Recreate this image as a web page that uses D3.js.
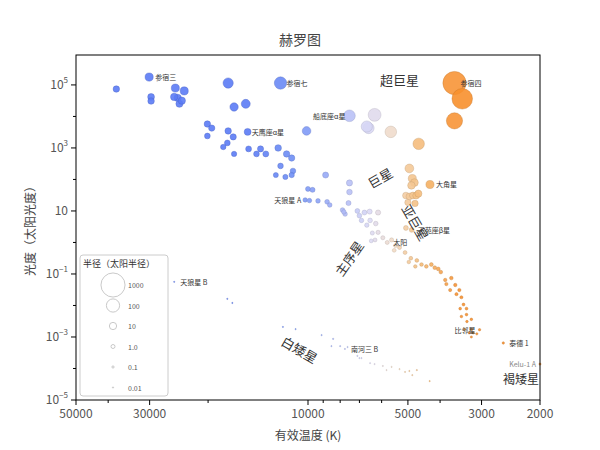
<!DOCTYPE html>
<html><head><meta charset="utf-8">
<script src="https://cdn.jsdelivr.net/npm/d3@7"></script>
<style>body{margin:0;background:#fff}text{font-family:"Noto Sans CJK SC","Noto Sans",sans-serif}</style>
</head><body><svg id="c" width="600" height="450"></svg>
<script>
// star data: [effective temperature K, luminosity (solar)] via log10 L
const hotStars = [[37800,4.87],[30100,5.25],[29700,4.62],[29700,4.49],[25100,4.90],[24700,4.59],[25300,4.62],[24400,4.40],[23600,4.81],[24000,4.5],
 [17400,5.06],[16700,4.30],[15400,4.40],[12100,5.06],[20100,3.76],[19500,3.63],[20100,3.38],[17400,3.54],[16800,3.35],[16700,2.81],[18000,3.03],[17500,3.16],
 [15200,3.51],[15100,2.97],[14300,2.81],[13400,2.81],[13900,2.97],[12300,3.00],[11600,2.81],[12100,2.43],[11100,2.27],[11200,2.68],[12500,2.14],[11700,2.08],[11200,2.14],
 [10100,3.54],[8850,2.14],[10000,1.70],[9690,1.67],[9330,1.32],[8760,1.29],[8600,1.19],[10200,1.35],[9900,1.33],[7500,1.89],[7500,1.60],[7550,1.25],[7870,1.03],[7730,0.90],[7800,0.97]];
const superStars = [[7500,4.02],[6300,4.05],[6570,3.63],[6650,3.68],[5630,3.51],[4640,3.13],[3620,5.06],[3430,4.56],[3620,3.86]];
const msStars = [[7100,1.0],[7000,0.85],[6760,0.95],[6520,0.98],[6150,0.95],[6900,0.7],[6500,0.7],[6650,0.55],[6250,0.6],[6400,0.3],[6150,0.32],[6280,0.08],[6450,0.05],
 [5950,0.15],[5600,0.08],[5772,0.0],[5450,-0.1],[5300,-0.16],[5500,-0.25],[5100,-0.32],[4900,-0.5],[4970,-0.62],[4700,-0.57],[4550,-0.7],[4750,-0.76],[4400,-0.76],[4250,-0.7],[4150,-0.8],[4050,-0.84],
 [3980,-0.94],[3860,-1.19],[3830,-1.32],[3700,-1.13],[3600,-1.35],[3730,-1.51],[3570,-1.64],[3500,-1.51],[3450,-1.74],[3400,-1.97],[3480,-2.10],[3330,-2.10],[3330,-2.29],[3450,-2.35],[3320,-2.51],
 [3220,-2.44],[3380,-2.76],[3270,-2.87],[3220,-2.76],[3180,-2.87],[3220,-3.0],[3042,-2.77],[3100,-2.9],[2580,-3.19],[2000,-3.86]];
const giantStars = [[4950,2.35],[4850,2.03],[4780,1.90],[4880,1.81],[5070,1.49],[4950,1.46],[4830,1.49],[4720,1.49],[4650,1.55],[5000,1.27],[4760,1.24],[4290,1.84],[5070,0.46],[4870,0.40]];
const dwarfStars = [[25300,-1.25],[17500,-1.79],[16900,-1.92],[11900,-2.68],[10900,-2.75],[9100,-2.94],[8400,-3.06],[8500,-3.29],[8000,-3.29],[7600,-3.32],[7740,-3.38],[7100,-3.6],[7000,-3.67],
 [6900,-3.67],[6500,-3.83],[6300,-3.86],[5950,-3.92],[5800,-4.05],[5600,-3.95],[5300,-4.02],[5100,-4.11],[4950,-4.08],[4850,-4.21],[4700,-4.05],[4300,-4.40]];
const starLabels = [["参宿三",30100,5.25],["参宿七",12100,5.06],["参宿四",3620,5.06],["船底座α星",7500,4.02],["天鹰座α星",15400,3.51],["大角星",4290,1.84],
 ["天狼星 A",10200,1.35],["天苑座β星",4870,0.40],["太阳",5772,0.0],["天狼星 B",25300,-1.25],["南河三 B",7740,-3.38],["比邻星",3042,-2.77],["泰德 1",2580,-3.19],["Kelu-1 A",2000,-3.86]];
const regionLabels = [["超巨星",5300,5.0,0,13],["巨星",5950,1.9,-30,13],["亚巨星",4900,0.55,60,13],["主序星",7300,-0.6,-55,13],["白矮星",10800,-3.55,30,13],["褐矮星",2280,-4.5,0,12]];
const legendRadii = [1000,100,10,1.0,0.1,0.01];
const legendText = ["1000","100","10","1.0","0.1","0.01"];
const xTicks = [50000,30000,10000,5000,3000,2000];
const yTicks = [5,3,1,-1,-3,-5];

const svg = d3.select("#c");
const L=76,R=540,T=55,B=400;
const x = d3.scaleLog().domain([50000,2000]).range([L,R]);
const y = d3.scaleLinear().domain([-5,5.95]).range([B,T]);
const col = d3.scaleLog().domain([2000,3500,4500,5500,6500,8000,11000,15000,50000])
  .range(["#f7902e","#f7902e","#f5b870","#f3dcc5","#dcdaf5","#a9b6f7","#7090f5","#5b7bf5","#5b7bf5"]).interpolate(d3.interpolateRgb).clamp(true);
const rad = Rs => 2*Math.pow(Rs,0.26);
const radius = d => Math.sqrt(Math.pow(10,d[1]))/Math.pow(d[0]/5772,2);

const all = [...hotStars,...superStars,...msStars,...giantStars,...dwarfStars];
svg.append("g").selectAll("circle").data(all).join("circle")
 .attr("cx",d=>x(d[0])).attr("cy",d=>y(d[1])).attr("r",d=>rad(radius(d)))
 .attr("fill",d=>col(d[0])).attr("fill-opacity",0.9)
 .attr("stroke",d=>d3.color(col(d[0])).darker(0.6)).attr("stroke-width",0.4);

svg.append("rect").attr("x",L).attr("y",T).attr("width",R-L).attr("height",B-T).attr("fill","none").attr("stroke","#000").attr("stroke-width",1);

// axes
const xa = svg.append("g").attr("transform",`translate(0,${B})`);
const minorX = [40000,20000,9000,8000,7000,6000,4000];
xa.selectAll(".mj").data(xTicks).join("line").attr("x1",d=>x(d)).attr("x2",d=>x(d)).attr("y1",0).attr("y2",5).attr("stroke","#000");
xa.selectAll(".mn").data(minorX).join("line").attr("x1",d=>x(d)).attr("x2",d=>x(d)).attr("y1",0).attr("y2",3).attr("stroke","#000");
xa.selectAll("text").data(xTicks).join("text").attr("x",d=>x(d)).attr("y",18).attr("text-anchor","middle").attr("font-size",12).attr("fill","#555").text(d=>d);
const ya = svg.append("g").attr("transform",`translate(${L},0)`);
ya.selectAll(".mj").data(yTicks).join("line").attr("x1",-5).attr("x2",0).attr("y1",d=>y(d)).attr("y2",d=>y(d)).attr("stroke","#000");
ya.selectAll(".mn").data([4,2,0,-2,-4]).join("line").attr("x1",-3).attr("x2",0).attr("y1",d=>y(d)).attr("y2",d=>y(d)).attr("stroke","#000");
const yl = ya.selectAll("text").data(yTicks).join("text").attr("x",-8).attr("y",d=>y(d)+4).attr("text-anchor","end").attr("font-size",12).attr("fill","#555");
yl.each(function(d){const t=d3.select(this);
 if(d===1){t.text("10");return;}
 t.append("tspan").text("10"); t.append("tspan").attr("dy",-6).attr("font-size",8).text(d<0?"−"+(-d):d);});

svg.append("text").attr("x",300).attr("y",45).attr("text-anchor","middle").attr("font-size",14).attr("fill","#444").text("赫罗图");
svg.append("text").attr("x",308).attr("y",440).attr("text-anchor","middle").attr("font-size",12).attr("fill","#444").text("有效温度 (K)");
svg.append("text").attr("transform","translate(35,228) rotate(-90)").attr("text-anchor","middle").attr("font-size",12).attr("fill","#444").text("光度（太阳光度）");

// star labels
svg.append("g").selectAll("text").data(starLabels).join("text")
 .attr("x",d=>{const px=x(d[1]); return d[0]==="船底座α星"||d[0]==="天狼星 A"||d[0]==="比邻星"||d[0]==="Kelu-1 A"?px-4:px+6;})
 .attr("y",d=>y(d[2])+3).attr("text-anchor",d=>["船底座α星","天狼星 A","比邻星","Kelu-1 A"].includes(d[0])?"end":"start")
 .attr("font-size",7).attr("fill",d=>d[0]==="Kelu-1 A"?"#888":"#333").text(d=>d[0]);
svg.append("g").selectAll("text").data(regionLabels).join("text")
 .attr("transform",d=>`translate(${x(d[1])},${y(d[2])}) rotate(${d[3]})`).attr("text-anchor","middle")
 .attr("font-size",d=>d[4]).attr("fill","#333").text(d=>d[0]);

// legend
const lg = svg.append("g");
lg.append("rect").attr("x",80).attr("y",255).attr("width",88).attr("height",141).attr("rx",3).attr("fill","#fff").attr("fill-opacity",0.85).attr("stroke","#ccc");
lg.append("text").attr("x",83).attr("y",267).attr("font-size",9).attr("fill","#333").text("半径（太阳半径）");
lg.selectAll("circle").data(legendRadii).join("circle").attr("cx",113).attr("cy",(d,i)=>285+i*20.5).attr("r",d=>rad(d))
 .attr("fill","none").attr("stroke","#bbb").attr("stroke-width",0.8);
lg.selectAll(".lt").data(legendText).join("text").attr("x",128).attr("y",(d,i)=>288+i*20.5).attr("font-size",7).attr("fill","#555").text(d=>d);
</script></body></html>
